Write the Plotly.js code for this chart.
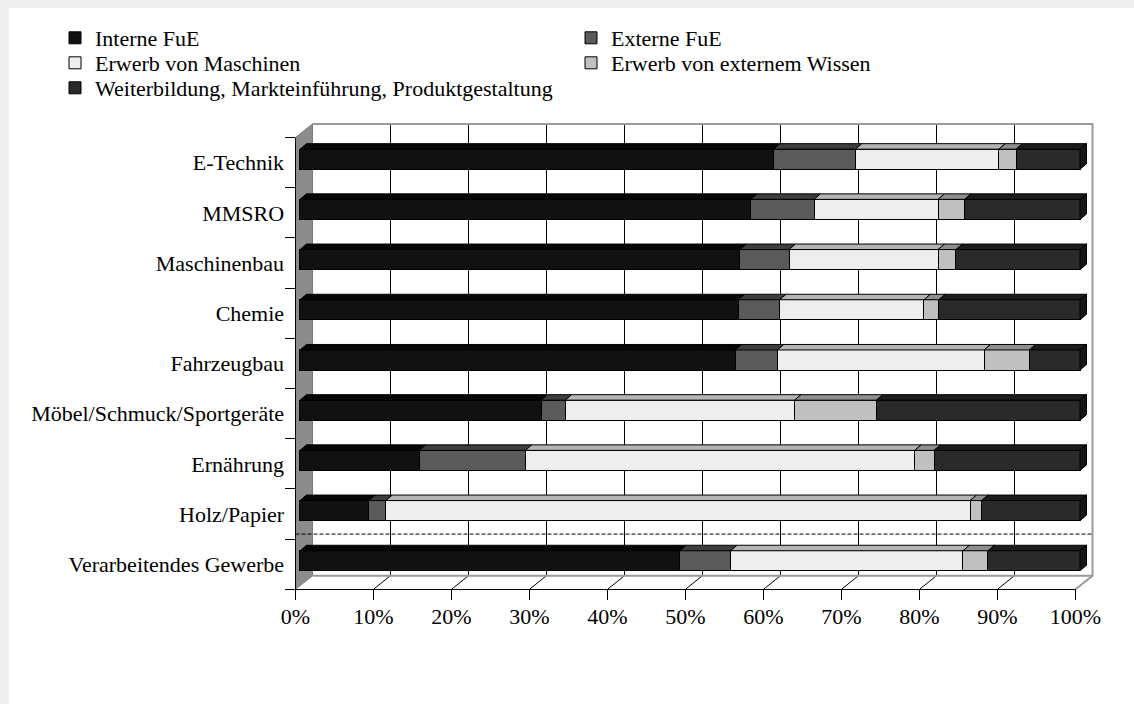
<!DOCTYPE html>
<html><head><meta charset="utf-8">
<script src="https://cdn.plot.ly/plotly-3.0.1.min.js"></script>
<style>html,body{margin:0;padding:0;background:#eeeeee}</style>
</head><body>
<div id="chart" style="width:1134px;height:704px"></div>
<script>
// ---------- data ----------
const categories = ['E-Technik','MMSRO','Maschinenbau','Chemie','Fahrzeugbau','Möbel/Schmuck/Sportgeräte','Ernährung','Holz/Papier','Verarbeitendes Gewerbe'];
const seriesNames = ['Interne FuE','Externe FuE','Erwerb von Maschinen','Erwerb von externem Wissen','Weiterbildung, Markteinführung, Produktgestaltung'];
const interneFuE      = [60.7, 57.8, 56.4, 56.2, 55.8, 30.9, 15.3,  8.8, 48.7];
const externeFuE      = [10.5,  8.1,  6.3,  5.3,  5.4,  3.1, 13.6,  2.2,  6.5];
const erwerbMaschinen = [18.4, 15.9, 19.1, 18.5, 26.5, 29.4, 49.9, 74.9, 29.8];
const erwerbWissen    = [ 2.2,  3.4,  2.3,  1.9,  5.8, 10.5,  2.5,  1.5,  3.2];
const weiterbildung   = [ 8.2, 14.8, 15.9, 18.1,  6.5, 26.1, 18.7, 12.6, 11.8];
const xTickValues = [0,10,20,30,40,50,60,70,80,90,100];
const xTickLabels = ['0%','10%','20%','30%','40%','50%','60%','70%','80%','90%','100%'];

// ---------- style / geometry ----------
const W = 1134, H = 704;
const FONT = 'Liberation Serif, Times New Roman, serif';
const FS = 22;
const frontColors = ['#111111','#5a5a5a','#eeeeee','#c0c0c0','#2a2a2a'];
const topColors   = ['#060606','#3e3e3e','#b4b4b4','#8e8e8e','#1c1c1c'];
const sideColor = '#161616';
const legendOf = ['legend','legend','legend2','legend2','legend3'];
const PX = 7.8;          // px per percent
const BAND = 50.2;       // px per category
const FX0 = 295.5;       // front plane x of 0%
const FY0 = 137.5;       // front plane y of top boundary
const DEPTH_X = 17, DEPTH_Y = 13.6;      // full depth offset in px
const BAR_SHIFT_X = 4.5, BAR_SHIFT_Y = 3.4;
const BAR_W = 0.4;                          // in category units
const BAR_DX = 6.5 / PX, BAR_DY = 5.5 / BAND;
const DXu = DEPTH_X / PX, DYu = DEPTH_Y / BAND;
const NB = categories.length;
const idx = categories.map((c, i) => i);

function xdom(u0, u1, origin) { return [(origin + u0 * PX) / W, (origin + u1 * PX) / W]; }
function ydom(u0, u1, top) {
  const pTop = top + (u0 + 0.5) * BAND, pBot = top + (u1 + 0.5) * BAND;
  return [(H - pBot) / H, (H - pTop) / H];
}

const values = [interneFuE, externeFuE, erwerbMaschinen, erwerbWissen, weiterbildung];
const traces = [];

// ---------- 3D frame (world subplot x/y) ----------
const yTop = -0.5, yBot = NB - 0.5;
traces.push({type:'scatter', mode:'lines', x:[0, DXu, DXu, 0, 0], y:[yTop, yTop - DYu, yBot - DYu, yBot, yTop],
  fill:'toself', fillcolor:'#8c8c8c', line:{color:'#7a7a7a', width:1}, showlegend:false, hoverinfo:'skip', xaxis:'x', yaxis:'y'});
const gx = [], gy = [], fx = [], fy = [];
xTickValues.filter(v => v > 0 && v < 100).forEach(v => {
  gx.push(v + DXu, v + DXu, null); gy.push(yTop - DYu, yBot - DYu, null);
  fx.push(v, v + DXu, null); fy.push(yBot, yBot - DYu, null);
});
traces.push({type:'scatter', mode:'lines', x:gx, y:gy, line:{color:'#000', width:1}, showlegend:false, hoverinfo:'skip', xaxis:'x', yaxis:'y'});
traces.push({type:'scatter', mode:'lines', x:fx, y:fy, line:{color:'#000', width:1}, showlegend:false, hoverinfo:'skip', xaxis:'x', yaxis:'y'});
traces.push({type:'scatter', mode:'lines',
  x:[DXu, 100 + DXu, 100 + DXu, 100, null, DXu, 100 + DXu],
  y:[yTop - DYu, yTop - DYu, yBot - DYu, yBot, null, yBot - DYu, yBot - DYu],
  line:{color:'#9a9a9a', width:2}, showlegend:false, hoverinfo:'skip', xaxis:'x', yaxis:'y'});
const SEP_DEPTH = 0.37;
traces.push({type:'scatter', mode:'lines', x:[0, 100 + DXu], y:[yBot - 1 - SEP_DEPTH * DYu, yBot - 1 - SEP_DEPTH * DYu],
  line:{color:'#000', width:1, dash:'4px,2px'}, showlegend:false, hoverinfo:'skip', xaxis:'x', yaxis:'y'});

// ---------- front axes (x2 / y2 / y3) ----------
traces.push({type:'scatter', mode:'lines', x:[null], y:[null], showlegend:false, hoverinfo:'skip', xaxis:'x2', yaxis:'y2'});
traces.push({type:'scatter', mode:'lines', x:[null], y:[null], showlegend:false, hoverinfo:'skip', xaxis:'x2', yaxis:'y3'});

// ---------- bars (x3 / y4) ----------
const cum = categories.map(() => 0);
values.forEach((vals, s) => {
  traces.push({type:'bar', orientation:'h', name:seriesNames[s], legend:legendOf[s], x:vals, y:idx, width:BAR_W,
    marker:{color:frontColors[s], line:{color:'#000', width:1}}, hoverinfo:'skip', xaxis:'x3', yaxis:'y4'});
  const px = [], py = [];
  vals.forEach((v, i) => {
    const a = cum[i], b = cum[i] + v, yf = i - BAR_W / 2;
    px.push(a, b, b + BAR_DX, a + BAR_DX, a, null);
    py.push(yf, yf, yf - BAR_DY, yf - BAR_DY, yf, null);
    cum[i] = b;
  });
  traces.push({type:'scatter', mode:'lines', x:px, y:py, fill:'toself', fillcolor:topColors[s],
    line:{color:'#000', width:1}, showlegend:false, hoverinfo:'skip', xaxis:'x3', yaxis:'y4'});
});
const sx = [], sy = [];
cum.forEach((t, i) => {
  const y0 = i - BAR_W / 2, y1 = i + BAR_W / 2;
  sx.push(t, t + BAR_DX, t + BAR_DX, t, t, null);
  sy.push(y0, y0 - BAR_DY, y1 - BAR_DY, y1, y0, null);
});
traces.push({type:'scatter', mode:'lines', x:sx, y:sy, fill:'toself', fillcolor:sideColor,
  line:{color:'#000', width:1}, showlegend:false, hoverinfo:'skip', xaxis:'x3', yaxis:'y4'});

function legendAt(topPx) {
  return {orientation:'h', x:55 / W, y:1 - topPx / H, xanchor:'left', yanchor:'top',
    entrywidth:471, entrywidthmode:'pixels', bgcolor:'rgba(0,0,0,0)', borderwidth:0,
    font:{family:FONT, size:FS, color:'#000'}, traceorder:'normal', itemclick:false, itemdoubleclick:false};
}

const hidden = {visible:false, fixedrange:true, automargin:false};
const layout = {
  width: W, height: H, autosize:false,
  margin:{l:0, r:0, t:0, b:0, pad:0},
  paper_bgcolor:'#eeeeee', plot_bgcolor:'rgba(0,0,0,0)',
  font:{family:FONT, size:FS, color:'#000'},
  barmode:'stack', bargap:0, showlegend:true,
  legend: legendAt(17), legend2: legendAt(42), legend3: legendAt(67),
  xaxis: Object.assign({range:[-5, 105], domain:xdom(-5, 105, FX0), anchor:'y'}, hidden),
  yaxis: Object.assign({range:[9, -1], domain:ydom(-1, 9, FY0), anchor:'x'}, hidden),
  xaxis2:{range:[0, 100], domain:xdom(0, 100, FX0), anchor:'y2', side:'bottom',
    tickmode:'array', tickvals:xTickValues, ticktext:xTickLabels,
    ticks:'outside', ticklen:10, tickwidth:1, tickcolor:'#000', ticklabelstandoff:-3,
    showline:true, linecolor:'#000', linewidth:1, showgrid:false, zeroline:false,
    tickfont:{family:FONT, size:FS, color:'#000'}, fixedrange:true, automargin:false},
  yaxis2:{range:[NB - 0.5, -0.5], domain:ydom(-0.5, NB - 0.5, FY0), anchor:'x2', side:'left',
    tickmode:'array', tickvals:idx, ticktext:categories,
    ticks:'outside', ticklen:6, tickcolor:'rgba(0,0,0,0)',
    showline:true, linecolor:'#000', linewidth:1, showgrid:false, zeroline:false,
    tickfont:{family:FONT, size:FS, color:'#000'}, fixedrange:true, automargin:false},
  yaxis3:{range:[NB - 0.5, -0.5], overlaying:'y2', anchor:'x2', side:'left',
    tickmode:'array', tickvals:[-0.5].concat(idx.map(i => i + 0.5)),
    ticks:'outside', ticklen:10, tickwidth:1, tickcolor:'#000', showticklabels:false,
    showline:false, showgrid:false, zeroline:false, fixedrange:true, automargin:false},
  xaxis3: Object.assign({range:[-2, 103], domain:xdom(-2, 103, FX0 + BAR_SHIFT_X), anchor:'y4'}, hidden),
  yaxis4: Object.assign({range:[9, -1], domain:ydom(-1, 9, FY0 - BAR_SHIFT_Y), anchor:'x3'}, hidden),
  shapes:[{type:'rect', xref:'paper', yref:'paper', x0:9 / W, x1:1, y0:0, y1:1 - 8 / H,
    fillcolor:'#ffffff', line:{width:0}, layer:'below'}]
};
Plotly.newPlot('chart', traces, layout, {staticPlot:true, displayModeBar:false});
</script>
</body></html>
